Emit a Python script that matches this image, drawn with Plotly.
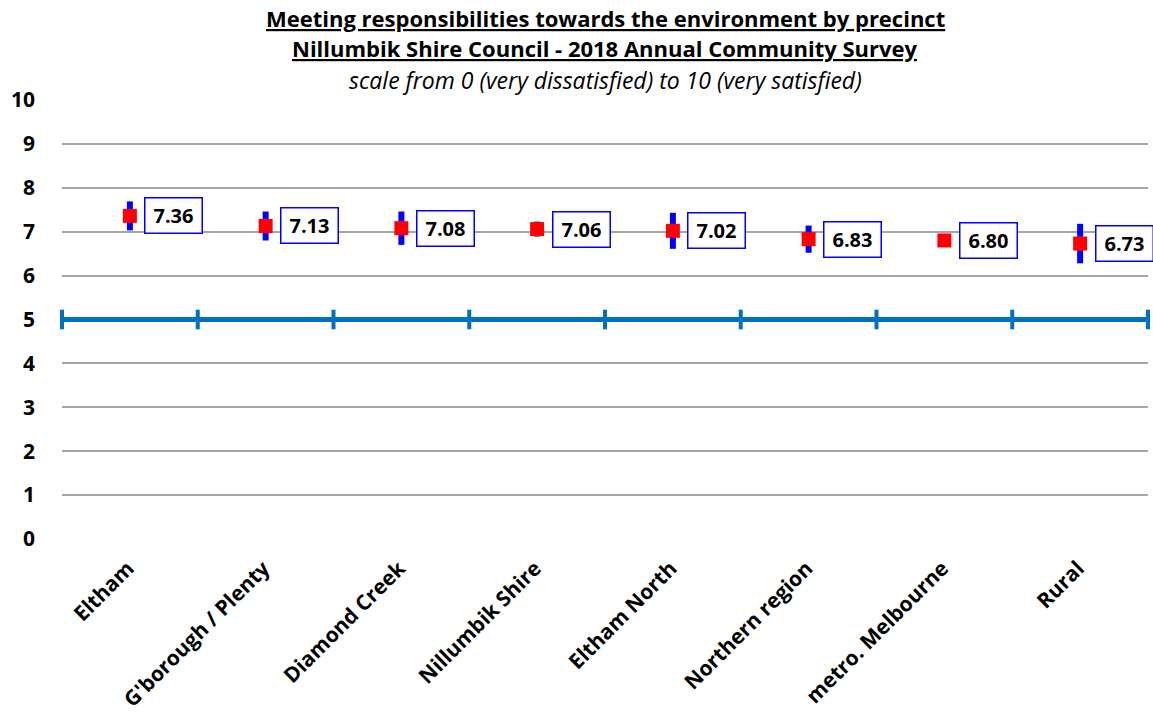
import plotly.graph_objects as go

# Precinct scores (0-10 scale) and 95% confidence half-widths
precincts = ['Eltham', "G'borough / Plenty", 'Diamond Creek', 'Nillumbik Shire',
             'Eltham North', 'Northern region', 'metro. Melbourne', 'Rural']
scores = [7.36, 7.13, 7.08, 7.06, 7.02, 6.83, 6.80, 6.73]
ci = [0.33, 0.33, 0.38, 0.17, 0.41, 0.31, 0.08, 0.45]
benchmark = 5

FONT = 'Open Sans'
x_pos = list(range(len(precincts)))

fig = go.Figure()

# Benchmark line at 5 with divider ticks between precincts
bounds = [i - 0.5 for i in range(len(precincts) + 1)]
fig.add_trace(go.Scatter(
    x=bounds, y=[benchmark] * len(bounds),
    mode='lines+markers', cliponaxis=False,
    line=dict(color='#0070C0', width=5),
    marker=dict(symbol='line-ns', size=14, line=dict(width=4, color='#0070C0')),
    hoverinfo='skip', showlegend=False,
))

# Scores with confidence intervals
fig.add_trace(go.Scatter(
    x=x_pos, y=scores,
    mode='markers',
    marker=dict(symbol='square', size=14, color='#FF0000'),
    error_y=dict(type='data', array=ci, color='#0000FF', thickness=6, width=0),
    showlegend=False,
))

# Value labels in boxes
for i, v in enumerate(scores):
    fig.add_annotation(
        x=i, y=v, text=f'<b>{v:.2f}</b>', showarrow=False,
        xshift=44, font=dict(family=FONT, size=20, color='black'),
        width=48, height=26,
        bgcolor='white', bordercolor='#0000FF', borderwidth=1.5,
        borderpad=4,
    )

# Titles
titles = [
    ('<b><u>Meeting responsibilities towards the environment by precinct</u></b>', 18, 22),
    ('<b><u>Nillumbik Shire Council - 2018 Annual Community Survey</u></b>', 48, 22),
    ('<i>scale from 0 (very dissatisfied) to 10 (very satisfied)</i>', 80, 23),
]
for text, ypx, size in titles:
    fig.add_annotation(
        x=0.5, xref='paper', y=1 + (100 - ypx) / 439, yref='paper',
        text=text, showarrow=False, yanchor='middle',
        font=dict(family=FONT, size=size, color='black'),
    )

fig.update_layout(
    width=1153, height=720,
    margin=dict(l=62, r=5, t=100, b=181),
    plot_bgcolor='white', paper_bgcolor='white',
    font=dict(family=FONT, color='black'),
    xaxis=dict(
        range=[-0.5, len(precincts) - 0.5], automargin=False,
        tickvals=x_pos, ticktext=[f'<b>{p}</b>' for p in precincts],
        tickangle=-45, tickfont=dict(size=21, family=FONT),
        ticklabelstandoff=12, ticklabelshift=-2,
        showgrid=False, zeroline=False, showline=False, ticks='',
    ),
    yaxis=dict(
        range=[0, 10], automargin=False,
        tickvals=list(range(11)), ticktext=[f'<b>{t}</b>' for t in range(11)],
        tickfont=dict(size=21, family=FONT),
        showgrid=True, gridcolor='#A6A6A6', gridwidth=2,
        zeroline=False, showline=False, ticks='', ticklabelstandoff=26,
    ),
)

# drop the default page margin so the figure fills the window
fig.write_html('out.html', config={'displayModeBar': False},
               post_script="document.body.style.margin='0';")
